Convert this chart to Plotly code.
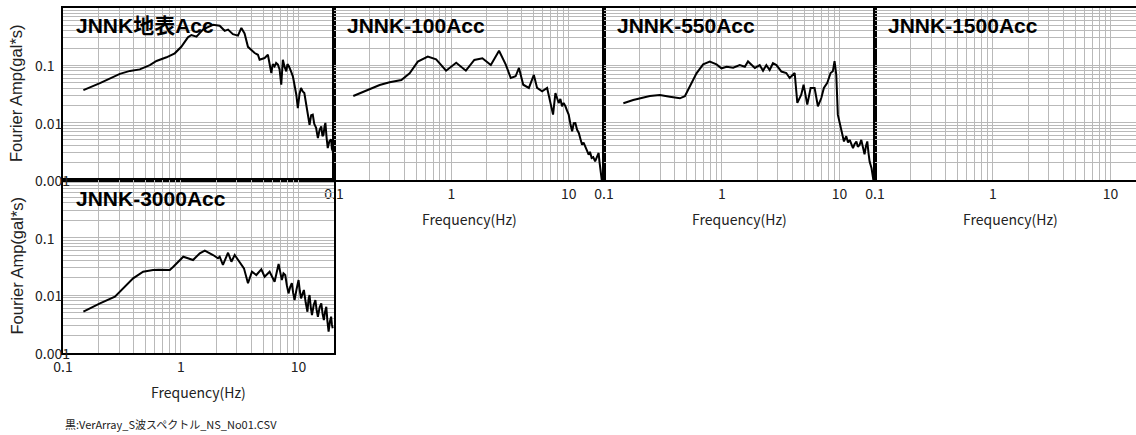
import math
import plotly.graph_objects as go

W, H = 1136, 435

# ---- spectra (frequency in Hz, Fourier amplitude in gal*s) ----
freq_surface = [0.149, 0.206, 0.304, 0.370, 0.449, 0.546, 0.622, 0.757, 0.889, 1.01,
                1.15, 1.23, 1.36, 1.55, 1.88, 2.14, 2.36, 2.52, 2.77, 3.06,
                3.27, 3.48, 3.72, 3.97, 4.24, 4.52, 4.67, 5.15, 5.49, 5.87,
                6.05, 6.26, 6.45, 6.68, 6.9, 7.13, 7.25, 7.36, 7.6, 7.87,
                8.05, 8.28, 8.6, 8.95, 9.25, 9.57, 9.86, 10.2, 10.5, 10.85,
                11.2, 11.45, 11.7, 12.0, 12.4, 12.8, 13.2, 13.6, 14.1, 14.35,
                14.6, 15.1, 15.6, 15.95, 16.3, 16.6, 16.9, 17.3, 17.7, 18.3,
                18.9, 19.2, 19.5]
amp_surface = [0.037, 0.049, 0.071, 0.080, 0.085, 0.101, 0.119, 0.138, 0.162, 0.211,
               0.308, 0.338, 0.316, 0.425, 0.51, 0.49, 0.40, 0.42, 0.35, 0.33,
               0.45, 0.36, 0.21, 0.187, 0.164, 0.153, 0.125, 0.134, 0.153, 0.0735,
               0.105, 0.0962, 0.11, 0.103, 0.085, 0.0459, 0.09, 0.125, 0.095, 0.0787,
               0.105, 0.0962, 0.08, 0.0644, 0.045, 0.0307, 0.018, 0.032, 0.0403, 0.035,
               0.0329, 0.024, 0.0193, 0.013, 0.0092, 0.0135, 0.0138, 0.0095, 0.0081, 0.0065,
               0.0054, 0.0075, 0.0086, 0.0058, 0.0062, 0.0085, 0.0099, 0.0055, 0.0036, 0.0048,
               0.0051, 0.0035, 0.0032]

freq_100 = [0.146, 0.177, 0.245, 0.298, 0.375, 0.441, 0.518, 0.630, 0.742, 0.902,
            1.10, 1.33, 1.57, 1.84, 2.17, 2.55, 2.91, 3.21, 3.53, 3.77,
            4.10, 4.58, 5.05, 5.38, 5.94, 6.55, 7.08, 7.36, 7.71, 7.95,
            8.22, 8.5, 8.77, 9.05, 9.38, 9.7, 10.0, 10.35, 10.7, 11.05,
            11.4, 11.8, 12.2, 12.6, 13.0, 13.4, 13.9, 14.3, 14.8, 15.2,
            15.7, 16.2, 16.8, 17.4, 18.0, 18.3, 18.6, 19.2]
amp_100 = [0.0292, 0.0347, 0.0454, 0.0506, 0.0555, 0.0726, 0.116, 0.142, 0.127, 0.0807,
           0.111, 0.0807, 0.124, 0.133, 0.101, 0.180, 0.103, 0.0601, 0.0644, 0.0899,
           0.0459, 0.0403, 0.068, 0.0403, 0.0353, 0.0403, 0.0206, 0.0138, 0.0329, 0.026,
           0.0220, 0.026, 0.0193, 0.022, 0.0193, 0.016, 0.0138, 0.0095, 0.00707, 0.0098,
           0.00986, 0.0075, 0.00661, 0.0052, 0.00413, 0.0045, 0.00361, 0.0033, 0.00276, 0.0031,
           0.00242, 0.0025, 0.00212, 0.0026, 0.00296, 0.0021, 0.00162, 0.00095]

freq_550 = [0.146, 0.177, 0.245, 0.298, 0.362, 0.441, 0.486, 0.535, 0.610, 0.695,
            0.791, 0.902, 0.994, 1.10, 1.25, 1.42, 1.57, 1.67, 1.91, 2.10,
            2.24, 2.39, 2.55, 2.72, 2.91, 3.21, 3.53, 3.77, 4.02, 4.16,
            4.38, 4.73, 4.95, 5.32, 5.68, 6.14, 6.55, 7.00, 7.36, 7.87,
            8.39, 8.77, 9.07, 9.38, 9.67, 10.3, 10.9, 11.4, 11.8, 12.2,
            12.6, 13.0, 13.4, 13.9, 14.3, 14.8, 15.3, 15.8, 16.3, 16.8,
            17.2, 17.6, 18.0, 18.7, 19.4]
amp_550 = [0.0218, 0.0248, 0.0292, 0.0304, 0.0284, 0.0266, 0.029, 0.0424, 0.0726, 0.104,
           0.116, 0.104, 0.0888, 0.0946, 0.0910, 0.101, 0.0946, 0.117, 0.090, 0.101,
           0.0807, 0.101, 0.083, 0.109, 0.101, 0.078, 0.0735, 0.060, 0.0685, 0.0735,
           0.0221, 0.0307, 0.046, 0.0206, 0.0403, 0.0403, 0.0193, 0.0269, 0.0403, 0.0494,
           0.0735, 0.0787, 0.118, 0.0685, 0.0138, 0.008, 0.0047, 0.0058, 0.0045, 0.0050,
           0.0042, 0.0036, 0.0042, 0.0047, 0.0038, 0.0041, 0.0050, 0.0036, 0.0028, 0.0040,
           0.0047, 0.0030, 0.0021, 0.0016, 0.00098]

freq_1500 = []
amp_1500 = []

freq_3000 = [0.149, 0.206, 0.276, 0.335, 0.394, 0.479, 0.53, 0.582, 0.65, 0.708,
             0.76, 0.807, 0.86, 0.920, 0.98, 1.05, 1.15, 1.27, 1.45, 1.60,
             1.88, 2.07, 2.14, 2.28, 2.52, 2.69, 2.87, 3.16, 3.44, 3.72,
             4.02, 4.38, 4.83, 5.15, 5.68, 6.26, 6.5, 6.77, 7.0, 7.21,
             7.45, 7.71, 7.95, 8.22, 8.5, 8.77, 9.0, 9.25, 9.6, 10.0,
             10.25, 10.5, 10.8, 11.1, 11.5, 11.9, 12.15, 12.4, 12.7, 13.0,
             13.45, 13.9, 14.25, 14.6, 15.1, 15.6, 16.0, 16.4, 16.8, 17.2,
             17.6, 18.0, 18.45, 18.9, 19.2, 19.5]
amp_3000 = [0.0052, 0.00727, 0.00947, 0.0141, 0.0197, 0.0257, 0.0268, 0.0275, 0.0278, 0.0275,
            0.027, 0.0275, 0.031, 0.0359, 0.042, 0.0468, 0.0439, 0.0410, 0.0535, 0.0594,
            0.0500, 0.0439, 0.0468, 0.0336, 0.0548, 0.0383, 0.0500, 0.0383, 0.0294, 0.0162,
            0.0257, 0.0225, 0.0283, 0.0210, 0.0257, 0.0172, 0.026, 0.035, 0.025, 0.0184,
            0.024, 0.0225, 0.015, 0.0108, 0.014, 0.0162, 0.011, 0.0083, 0.0125, 0.0184,
            0.012, 0.00888, 0.0105, 0.0124, 0.0075, 0.0052, 0.0085, 0.0101, 0.0062, 0.00456,
            0.0068, 0.0083, 0.0055, 0.00426, 0.0062, 0.00727, 0.0048, 0.00373, 0.0052, 0.00635,
            0.0035, 0.00234, 0.0035, 0.00426, 0.0031, 0.00268]

panel_titles = ["JNNK地表Acc", "JNNK-100Acc", "JNNK-550Acc", "JNNK-1500Acc", "JNNK-3000Acc"]
panel_series = [(freq_surface, amp_surface), (freq_100, amp_100), (freq_550, amp_550),
                (freq_1500, amp_1500), (freq_3000, amp_3000)]

y_tick_values = [0.1, 0.01, 0.001]
y_tick_labels = ["0.1", "0.01", "0.001"]
x_tick_values = [0.1, 1, 10]
x_tick_labels = ["0.1", "1", "10"]
x_title = "Frequency(Hz)"
y_title = "Fourier Amp(gal*s)"
footer = "黒:VerArray_S波スペクトル_NS_No01.CSV"

F_MIN, F_MAX = 0.1, 20.0
A_MIN, A_MAX = 0.001, 1.0

# panel frames in pixels: left, right, top, bottom (the 4th runs past the page edge)
frames = [(63, 334, 8, 180), (334, 604, 8, 180), (604, 875, 8, 180),
          (875, 1146, 8, 180), (63, 334, 180, 353)]
show_x_labels = [False, True, True, True, True]

GRID = "#b9b9b9"
TXT = "#222222"
LABEL_FONT = "Noto Sans CJK JP, Liberation Sans, sans-serif"
TITLE_FONT = "Liberation Sans, Arial, Noto Sans CJK JP, sans-serif"


def px(x):
    return x / W


def py(y):
    return 1 - y / H


# grid positions: every integer multiple inside each decade
grid_vals_x = [k * 10 ** d for d in (-1, 0, 1) for k in range(1, 10) if k * 10 ** d <= F_MAX] + [20]
grid_vals_y = [k * 10 ** d for d in (-3, -2, -1) for k in range(1, 10)] + [1]

fig = go.Figure()
layout = dict(
    width=W, height=H, autosize=False,
    margin=dict(l=0, r=0, t=0, b=0, pad=0, autoexpand=False),
    paper_bgcolor="white", plot_bgcolor="white", showlegend=False,
)
annotations = []

lx0, lx1 = math.log10(F_MIN), math.log10(F_MAX)
for i, ((l, r, t, b), (fx, fy), title) in enumerate(zip(frames, panel_series, panel_titles)):
    n = i + 1
    vis_r = min(r, W)
    x_hi = lx0 + (vis_r - l) / (r - l) * (lx1 - lx0)
    xa = dict(
        domain=[px(l), px(vis_r)], type="log", range=[lx0, x_hi],
        tickmode="array", tickvals=grid_vals_x,
        ticktext=[x_tick_labels[x_tick_values.index(v)] if v in x_tick_values else "" for v in grid_vals_x],
        showticklabels=show_x_labels[i], ticks="", automargin=False,
        tickfont=dict(family=LABEL_FONT, size=14, color=TXT),
        showgrid=True, gridcolor=GRID, gridwidth=1,
        showline=True, linecolor="black", linewidth=2, mirror=True,
        anchor=f"y{n}", fixedrange=True,
    )
    ya = dict(
        domain=[py(b), py(t)], type="log", range=[math.log10(A_MIN), math.log10(A_MAX)],
        tickmode="array", tickvals=grid_vals_y, showticklabels=False, ticks="", automargin=False,
        showgrid=True, gridcolor=GRID, gridwidth=1,
        showline=True, linecolor="black", linewidth=2, mirror=(r <= W),
        anchor=f"x{n}", fixedrange=True,
    )
    layout[f"xaxis{n}"] = xa
    layout[f"yaxis{n}"] = ya

    # every panel gets a trace so its axes are laid out, even with no data
    fig.add_trace(go.Scatter(x=fx, y=fy, mode="lines",
                             line=dict(color="black", width=2),
                             xaxis=f"x{n}", yaxis=f"y{n}", hoverinfo="skip"))

    annotations.append(dict(
        text=f"<b>{title}</b>", xref="paper", yref="paper",
        x=px(l + 11), y=py(t + 18), xanchor="left", yanchor="middle",
        showarrow=False, font=dict(family=TITLE_FONT, size=21, color="black"),
    ))

    if show_x_labels[i]:
        annotations.append(dict(
            text=x_title, xref="paper", yref="paper",
            x=px((l + r) / 2), y=py(b + 39), xanchor="center", yanchor="middle",
            showarrow=False, font=dict(family=LABEL_FONT, size=14, color=TXT),
        ))

    if l == 63:
        for v, lab in zip(y_tick_values, y_tick_labels):
            annotations.append(dict(
                text=lab, xref="paper", yref=f"y{n}", x=px(33), y=math.log10(v),
                xanchor="left", yanchor="middle", showarrow=False,
                font=dict(family=LABEL_FONT, size=14, color=TXT),
            ))
        annotations.append(dict(
            text=y_title, xref="paper", yref="paper", x=px(16), y=py((t + b) / 2 - 1),
            xanchor="center", yanchor="middle", textangle=-90, showarrow=False,
            font=dict(family=TITLE_FONT, size=16.5, color=TXT),
        ))

annotations.append(dict(
    text=footer, xref="paper", yref="paper", x=px(63), y=py(424),
    xanchor="left", yanchor="middle", showarrow=False,
    font=dict(family=LABEL_FONT, size=11, color=TXT),
))

layout["annotations"] = annotations
fig.update_layout(**layout)
fig.write_html(
    "out.html",
    config={"displayModeBar": False, "responsive": False},
    post_script="document.body.style.margin='0';document.body.style.overflow='hidden';",
)
